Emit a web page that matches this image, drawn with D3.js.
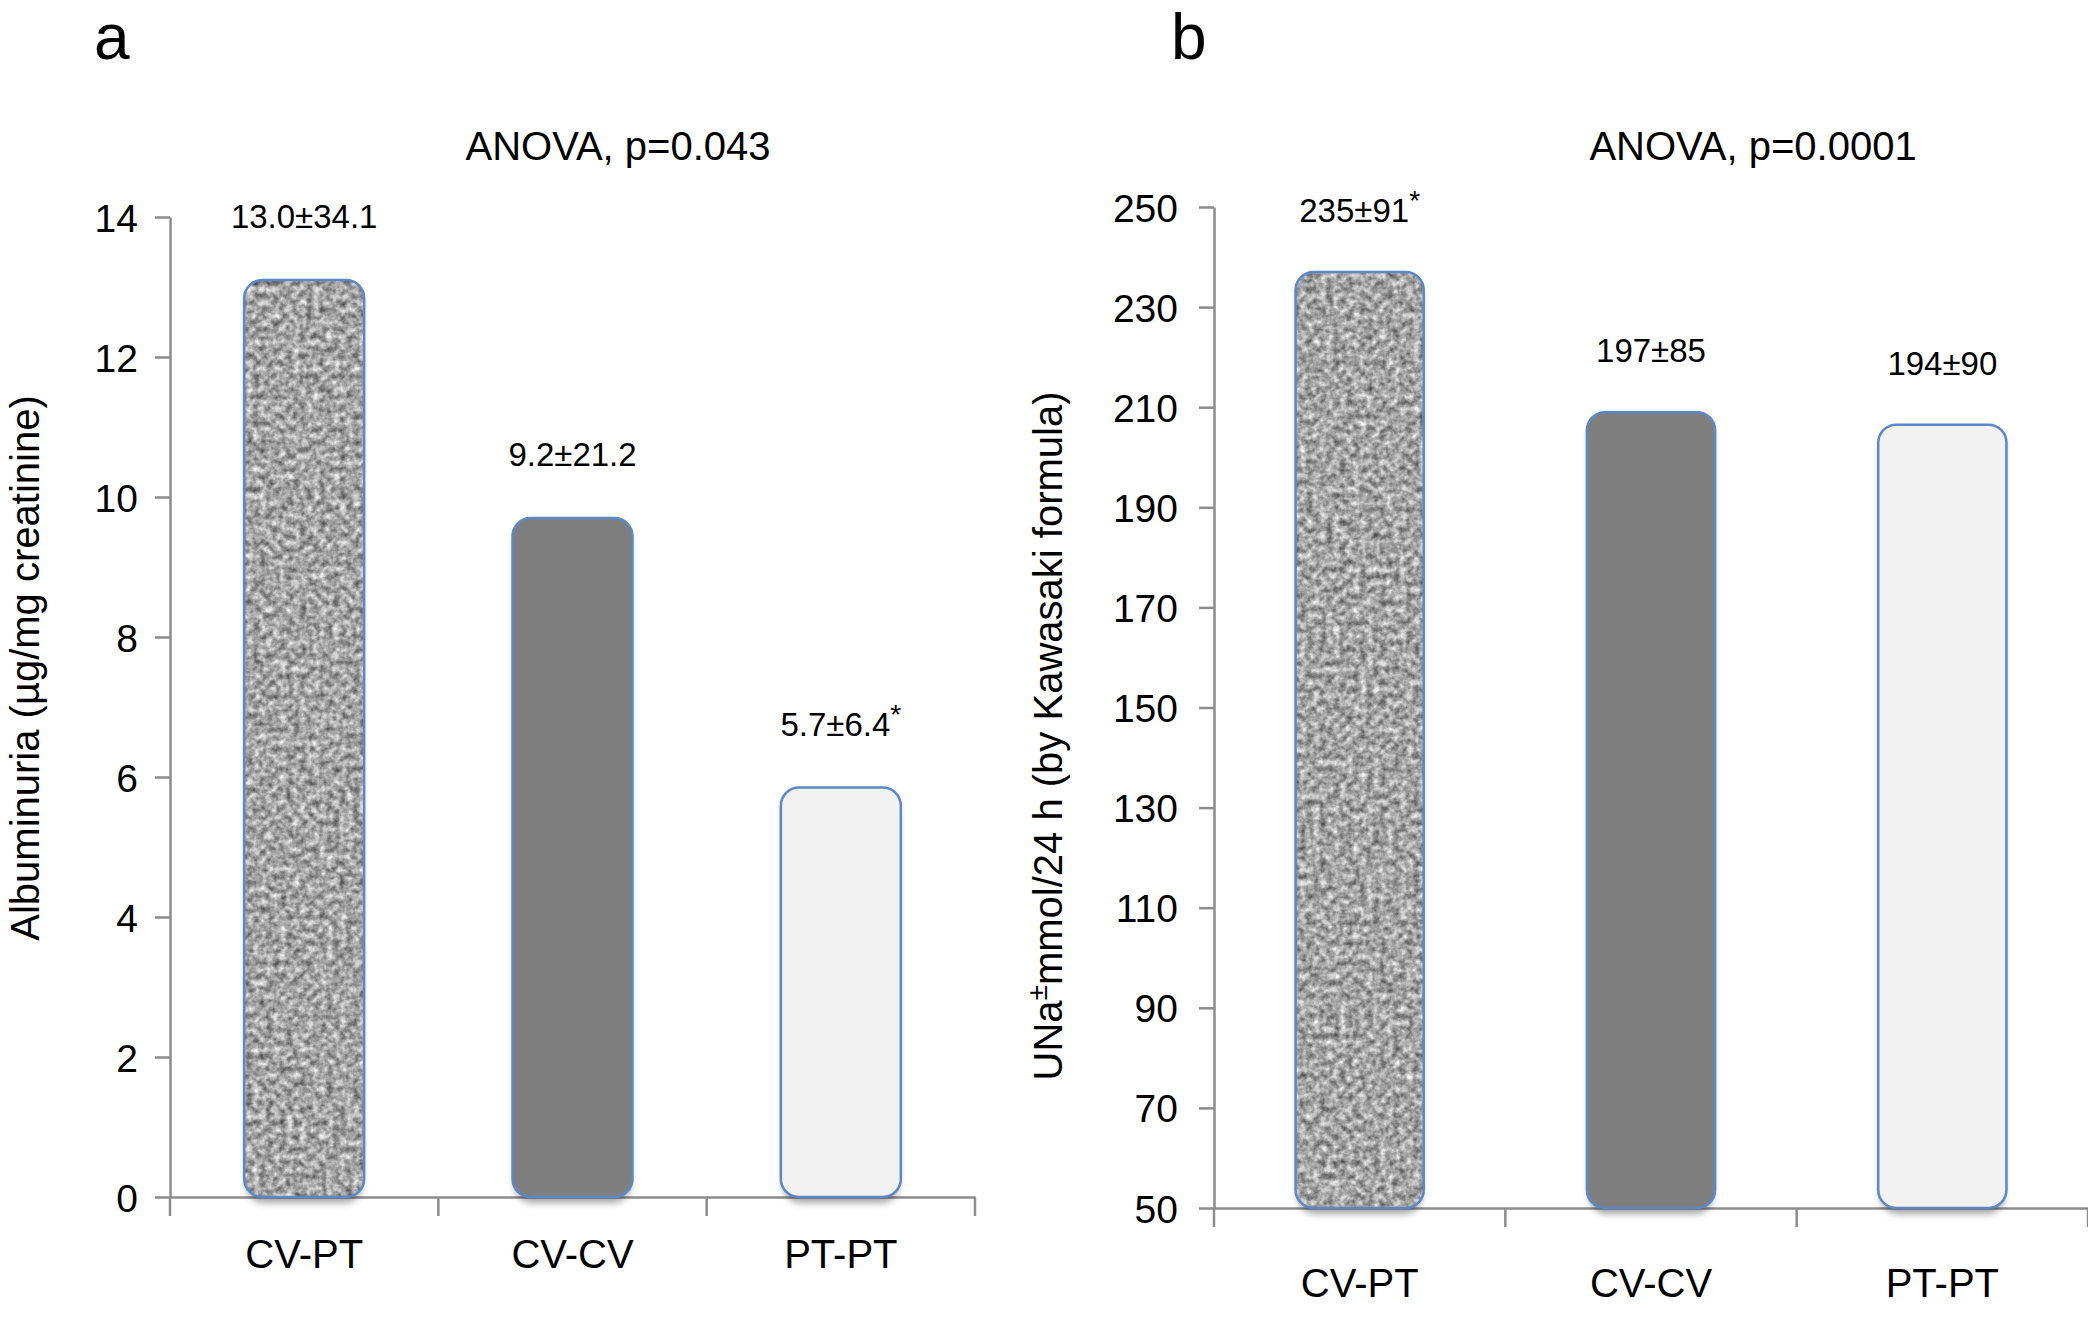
<!DOCTYPE html>
<html>
<head>
<meta charset="utf-8">
<script src="https://cdn.jsdelivr.net/npm/d3@7/dist/d3.min.js"></script>
<style>
  html, body { margin: 0; padding: 0; background: #fff; }
  svg { display: block; font-family: "Liberation Sans", Arial, Helvetica, sans-serif; }
</style>
</head>
<body>
<svg id="chart" width="2088" height="1318"></svg>
<script>
// ---------------- data ----------------
const categories = ["CV-PT", "CV-CV", "PT-PT"];

const albuminuriaValues = [13.1, 9.7, 5.85];
const albuminuriaLabels = ["13.0±34.1", "9.2±21.2", "5.7±6.4"];
const albuminuriaStars  = [false, false, true];
const albuminuriaTicks  = [0, 2, 4, 6, 8, 10, 12, 14];

const sodiumValues = [237, 209, 206.5];
const sodiumLabels = ["235±91", "197±85", "194±90"];
const sodiumStars  = [true, false, false];
const sodiumTicks  = [50, 70, 90, 110, 130, 150, 170, 190, 210, 230, 250];

const panelLetters = ["a", "b"];
const panelTitles  = ["ANOVA, p=0.043", "ANOVA, p=0.0001"];

// ---------------- styles ----------------
const barFills = ["url(#granite)", "#7f7f7f", "#f2f2f2"];
const axisColor = "#8c8c8c";
const barStroke = "#5b88c8";

const svg = d3.select("#chart");
const defs = svg.append("defs");

// granite texture filter
const gf = defs.append("filter")
  .attr("id", "graniteFx")
  .attr("x", 0).attr("y", 0).attr("width", 1).attr("height", 1)
  .attr("color-interpolation-filters", "sRGB");
gf.append("feTurbulence")
  .attr("type", "fractalNoise").attr("baseFrequency", 0.15)
  .attr("numOctaves", 3).attr("seed", 11).attr("result", "noise");
gf.append("feColorMatrix")
  .attr("in", "noise").attr("type", "matrix")
  .attr("values", "0.85 0 0 0 0.22  0.85 0 0 0 0.22  0.85 0 0 0 0.22  0 0 0 0 1")
  .attr("result", "gray");
gf.append("feComposite").attr("in", "gray").attr("in2", "SourceGraphic").attr("operator", "in");

// soft shadow filter
const sf = defs.append("filter").attr("id", "shadowFx")
  .attr("x", "-20%").attr("y", "-5%").attr("width", "140%").attr("height", "115%");
sf.append("feGaussianBlur").attr("stdDeviation", 3.5);

function drawPanel(cfg) {
  const g = svg.append("g");

  const x = d3.scaleBand()
    .domain(categories)
    .range([cfg.left, cfg.right])
    .paddingInner(cfg.pad)
    .paddingOuter(cfg.pad / 2);

  const y = d3.scaleLinear()
    .domain(cfg.domain)
    .range([cfg.bottom, cfg.top]);

  // y axis
  const yAxis = g.append("g")
    .attr("transform", `translate(${cfg.left},0)`)
    .call(d3.axisLeft(y).tickValues(cfg.ticks).tickSize(15).tickPadding(cfg.tickPad).tickSizeOuter(0));
  yAxis.select(".domain").attr("stroke", axisColor).attr("stroke-width", 2.5);
  yAxis.selectAll(".tick line").attr("stroke", axisColor).attr("stroke-width", 2.5);
  yAxis.selectAll(".tick text")
    .attr("fill", "#000").style("font-size", "39px")
    .attr("dy", "0.36em");

  // x axis (line + boundary ticks)
  const xAxis = g.append("g").attr("transform", `translate(0,${cfg.bottom})`);
  xAxis.call(d3.axisBottom(x).tickSize(0).tickPadding(cfg.catPad).tickSizeOuter(0));
  xAxis.select(".domain").attr("stroke", axisColor).attr("stroke-width", 2.5);
  xAxis.selectAll(".tick text")
    .attr("fill", "#000").style("font-size", "40px").attr("dy", "0");
  const bounds = d3.range(categories.length + 1).map(i => x.range()[0] + i * x.step());
  xAxis.selectAll(".bnd").data(bounds).join("line")
    .attr("class", "bnd")
    .attr("x1", d => d).attr("x2", d => d)
    .attr("y1", 0).attr("y2", 19)
    .attr("stroke", axisColor).attr("stroke-width", 2.5);

  const bw = x.bandwidth();
  const rx = 18;

  // shadows
  g.selectAll(".shadow").data(cfg.values).join("rect")
    .attr("class", "shadow")
    .attr("x", (d, i) => x(categories[i]) + 2)
    .attr("y", d => y(d) + 4)
    .attr("width", bw - 4)
    .attr("height", d => cfg.bottom - y(d) + 2)
    .attr("rx", rx)
    .attr("fill", "#000").attr("opacity", 0.35)
    .attr("filter", "url(#shadowFx)");

  // fills
  g.selectAll(".bar").data(cfg.values).join("rect")
    .attr("class", "bar")
    .attr("x", (d, i) => x(categories[i]))
    .attr("y", d => y(d))
    .attr("width", bw)
    .attr("height", d => cfg.bottom - y(d))
    .attr("rx", rx)
    .attr("fill", (d, i) => barFills[i] === "url(#granite)" ? "#000" : barFills[i])
    .attr("filter", (d, i) => barFills[i] === "url(#granite)" ? "url(#graniteFx)" : null);

  // outlines
  g.selectAll(".outline").data(cfg.values).join("rect")
    .attr("class", "outline")
    .attr("x", (d, i) => x(categories[i]))
    .attr("y", d => y(d))
    .attr("width", bw)
    .attr("height", d => cfg.bottom - y(d))
    .attr("rx", rx)
    .attr("fill", "none")
    .attr("stroke", barStroke).attr("stroke-width", 2.5);

  // value labels
  const lbl = g.selectAll(".vlabel").data(cfg.values).join("text")
    .attr("class", "vlabel")
    .attr("x", (d, i) => x(categories[i]) + bw / 2)
    .attr("y", d => y(d) - cfg.labelGap)
    .attr("text-anchor", "middle")
    .style("font-size", "33px")
    .attr("fill", "#000");
  lbl.append("tspan").text((d, i) => cfg.labels[i]);
  lbl.filter((d, i) => cfg.stars[i]).append("tspan")
    .attr("dy", -12).style("font-size", "28px").text("*");

  // title
  g.append("text")
    .attr("x", cfg.titleX).attr("y", 160)
    .attr("text-anchor", "middle")
    .style("font-size", "40px")
    .text(cfg.title);

  // panel letter
  g.append("text")
    .attr("x", cfg.letterX).attr("y", 59)
    .style("font-size", "64px")
    .text(cfg.letter);

  // y label
  const yl = g.append("text")
    .attr("transform", `translate(${cfg.ylabelX},${cfg.ylabelY}) rotate(-90)`)
    .attr("text-anchor", "middle")
    .style("font-size", "40px");
  cfg.ylabel(yl);
}

drawPanel({
  left: 170, right: 975, top: 217, bottom: 1197, pad: 0.553,
  domain: [0, 14], ticks: albuminuriaTicks, tickPad: 17, catPad: 71,
  values: albuminuriaValues, labels: albuminuriaLabels, stars: albuminuriaStars,
  labelGap: 52, title: panelTitles[0], titleX: 618,
  letter: panelLetters[0], letterX: 94,
  ylabelX: 39, ylabelY: 668,
  ylabel: t => t.text("Albuminuria (µg/mg creatinine)")
});

drawPanel({
  left: 1214, right: 2088, top: 207, bottom: 1208, pad: 0.56,
  domain: [50, 250], ticks: sodiumTicks, tickPad: 21, catPad: 89,
  values: sodiumValues, labels: sodiumLabels, stars: sodiumStars,
  labelGap: 50, title: panelTitles[1], titleX: 1753,
  letter: panelLetters[1], letterX: 1171,
  ylabelX: 1062, ylabelY: 736,
  ylabel: t => {
    t.append("tspan").text("UNa");
    t.append("tspan").attr("dy", -15).style("font-size", "28px").text("±");
    t.append("tspan").attr("dy", 15).text("mmol/24 h (by Kawasaki formula)");
  }
});
</script>
</body>
</html>
